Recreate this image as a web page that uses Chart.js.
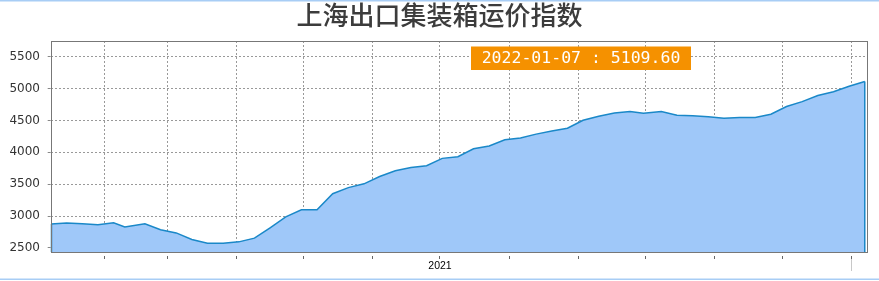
<!DOCTYPE html>
<html>
<head>
<meta charset="utf-8">
<script src="https://cdn.jsdelivr.net/npm/chart.js@4/dist/chart.umd.min.js"></script>
<style>
  html, body { margin: 0; padding: 0; background: #fff; }
  #wrap { width: 879px; height: 281px; }
</style>
</head>
<body>
<div id="wrap"><canvas id="g1" width="879" height="281"></canvas></div>
<script>
 // Datas semanais do índice
 const dates = [
   '2021-01-08', '2021-01-15', '2021-01-22', '2021-01-29', '2021-02-05', '2021-02-10',
   '2021-02-19', '2021-02-26', '2021-03-05', '2021-03-12', '2021-03-19', '2021-03-26',
   '2021-04-02', '2021-04-09', '2021-04-16', '2021-04-23', '2021-04-30', '2021-05-07',
   '2021-05-14', '2021-05-21', '2021-05-28', '2021-06-04', '2021-06-11', '2021-06-18',
   '2021-06-25', '2021-07-02', '2021-07-09', '2021-07-16', '2021-07-23', '2021-07-30',
   '2021-08-06', '2021-08-13', '2021-08-20', '2021-08-27', '2021-09-03', '2021-09-10',
   '2021-09-17', '2021-09-24', '2021-09-30', '2021-10-08', '2021-10-15', '2021-10-22',
   '2021-10-29', '2021-11-05', '2021-11-12', '2021-11-19', '2021-11-26', '2021-12-03',
   '2021-12-10', '2021-12-17', '2021-12-24', '2021-12-31', '2022-01-07'
 ];
 const values = [
   2876, 2891, 2880, 2864, 2894, 2831,
   2878, 2786, 2736, 2634, 2574, 2574,
   2596, 2654, 2817, 2987, 3100, 3100,
   3350, 3446, 3506, 3620, 3712, 3762,
   3790, 3905, 3930, 4055, 4100, 4197,
   4226, 4285, 4333, 4378, 4503, 4565,
   4615, 4640, 4612, 4640, 4582, 4573,
   4557, 4534, 4545, 4546, 4597, 4718,
   4795, 4890, 4950, 5035, 5109.60
 ];

 // Marcas do eixo X (início de cada mês) e seus textos
 const monthTicks = [
   '2021-02-01', '2021-03-01', '2021-04-01', '2021-05-01', '2021-06-01', '2021-07-01',
   '2021-08-01', '2021-09-01', '2021-10-01', '2021-11-01', '2021-12-01', '2022-01-01'
 ];
 const monthLabels = ['', '', '', '', '', '2021', '', '', '', '', '', ''];
 const yearMark = '2022-01-01';
 const xStart = '2021-01-08';
 const xEnd = '2022-01-08';

 // Marcas do eixo Y
 const yTicks = [2500, 3000, 3500, 4000, 4500, 5000, 5500];
 const yMin = 2437;
 const yMax = 5745;

 const title = '上海出口集装箱运价指数';

 function dayNum(d) {
   return (Date.parse(d) - Date.parse(xStart)) / 864e5;
 }

 const points = dates.map((d, i) => ({ x: dayNum(d), y: values[i] }));
 const tickDays = monthTicks.map(dayNum);

 // Fundo, moldura azul e contorno da área do gráfico
 const framePlugin = {
   id: 'frame',
   beforeDraw(chart) {
     const c = chart.ctx;
     c.save();
     c.fillStyle = '#fff';
     c.fillRect(0, 0, chart.width, chart.height);
     c.fillStyle = '#a8cdf5';
     c.fillRect(0, 0, chart.width, 1.5);
     c.fillRect(0, 278.5, chart.width, 1.5);
     c.restore();
   },
   afterDatasetsDraw(chart) {
     const c = chart.ctx;
     const a = chart.chartArea;
     const meta = chart.getDatasetMeta(0);
     const first = meta.data[0];
     const last = meta.data[meta.data.length - 1];
     c.save();
     // bordas verticais do preenchimento
     c.strokeStyle = '#1a88c8';
     c.lineWidth = 1.5;
     c.beginPath();
     c.moveTo(first.x + 0.5, first.y);
     c.lineTo(first.x + 0.5, a.bottom);
     c.moveTo(last.x, last.y);
     c.lineTo(last.x, a.bottom);
     c.stroke();
     // contorno cinza
     c.strokeStyle = '#777';
     c.lineWidth = 1;
     c.strokeRect(Math.round(a.left) + 0.5, Math.round(a.top) + 0.5,
       Math.round(a.right - a.left), Math.round(a.bottom - a.top));
     // separador do ano
     const xs = chart.scales.x;
     const yx = Math.round(xs.getPixelForValue(dayNum(yearMark))) + 0.5;
     c.strokeStyle = '#c8c8c8';
     c.beginPath();
     c.moveTo(yx, a.bottom + 7);
     c.lineTo(yx, a.bottom + 19);
     c.stroke();
     c.restore();
   },
   afterDraw(chart) {
     // caixa laranja com o último valor
     const c = chart.ctx;
     const a = chart.chartArea;
     const txt = dates[dates.length - 1] + ' : ' + values[values.length - 1].toFixed(2);
     const bx = a.left + 420, by = a.top + 5.5, bw = 220, bh = 23.5;
     c.save();
     c.fillStyle = '#f59100';
     c.fillRect(bx, by, bw, bh);
     c.fillStyle = '#fff';
     c.font = '16.5px "DejaVu Sans Mono"';
     c.textAlign = 'center';
     c.textBaseline = 'middle';
     c.fillText(txt, bx + bw / 2, by + bh / 2);
     c.restore();
   }
 };

 const ctx = document.getElementById('g1').getContext('2d');
 new Chart(ctx, {
   type: 'line',
   data: {
     datasets: [{
       label: title,
       data: points,
       borderColor: '#1a88c8',
       backgroundColor: '#9fc8f9',
       borderWidth: 1.5,
       pointRadius: 0,
       tension: 0,
       fill: 'start'
     }]
   },
   options: {
     responsive: false,
     animation: false,
     events: [],
     layout: { padding: 0 },
     plugins: {
       legend: { display: false },
       tooltip: { enabled: false },
       title: {
         display: true,
         text: title,
         color: '#3c3c3c',
         font: { family: '"Noto Sans CJK SC"', size: 26, weight: '500', lineHeight: 1.2 },
         padding: { top: 0, bottom: 9.8 }
       }
     },
     scales: {
       x: {
         type: 'linear',
         min: dayNum(xStart),
         max: dayNum(xEnd),
         afterBuildTicks: (s) => { s.ticks = tickDays.map(v => ({ value: v })); },
         afterFit: (s) => { s.height = 29; },
         border: { display: false, dash: [2, 2] },
         grid: {
           color: '#999',
           tickColor: '#666',
           tickLength: 7,
           tickBorderDash: [0, 4, 3, 20],
           tickWidth: 1
         },
         ticks: {
           color: '#000',
           padding: 1,
           maxRotation: 0,
           autoSkip: false,
           font: { family: '"Liberation Sans"', size: 10.5 },
           callback: (v) => monthLabels[tickDays.indexOf(v)] || ''
         }
       },
       y: {
         min: yMin,
         max: yMax,
         afterBuildTicks: (s) => { s.ticks = yTicks.map(v => ({ value: v })); },
         afterFit: (s) => { s.width = 51; },
         border: { display: false, dash: [2, 2] },
         grid: {
           color: '#999',
           tickColor: '#888',
           tickLength: 6,
           tickBorderDash: [0, 2.7, 3, 20],
           tickWidth: 1
         },
         ticks: {
           color: '#333',
           padding: 5,
           font: { family: '"DejaVu Sans"', size: 12 },
           callback: (v) => String(v)
         }
       },
       y2: {
         position: 'right',
         afterFit: (s) => { s.width = 12; },
         border: { display: false },
         grid: { display: false },
         ticks: { display: false }
       }
     }
   },
   plugins: [framePlugin]
 });
</script>
</body>
</html>
